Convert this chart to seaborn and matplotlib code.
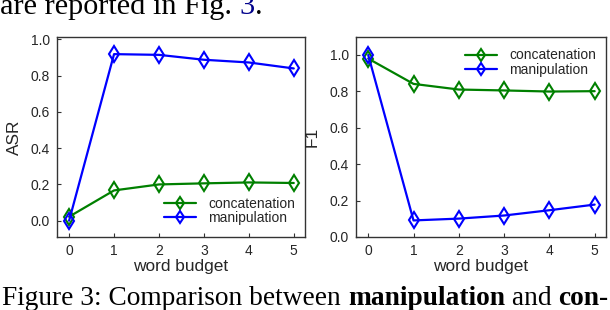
import matplotlib
matplotlib.use("Agg")
import matplotlib.pyplot as plt
import seaborn as sns
import pandas as pd

budget = [0, 1, 2, 3, 4, 5]
asr_concatenation = [0.022, 0.167, 0.200, 0.206, 0.211, 0.208]
asr_manipulation = [0.000, 0.919, 0.915, 0.888, 0.873, 0.840]
f1_concatenation = [0.980, 0.841, 0.810, 0.805, 0.799, 0.801]
f1_manipulation = [1.000, 0.091, 0.101, 0.118, 0.147, 0.178]
series_names = ["concatenation", "manipulation"]
series_colors = ["#008000", "#0000ff"]
xticks = [0, 1, 2, 3, 4, 5]
asr_yticks = [0.0, 0.2, 0.4, 0.6, 0.8, 1.0]
f1_yticks = [0.0, 0.2, 0.4, 0.6, 0.8, 1.0]

sns.set_style("ticks")
plt.rcParams["font.family"] = ["Liberation Sans", "DejaVu Sans"]

fig = plt.figure(figsize=(6.1, 3.1), dpi=100)
ax1 = fig.add_axes([0.0934, 0.2355, 0.4066, 0.646])
ax2 = fig.add_axes([0.5836, 0.2355, 0.4098, 0.646])

def draw(ax, ys, ylabel, ylim, yticks, legend_loc, bbox, ylabelpad):
    for name, color, y in zip(series_names, series_colors, ys):
        df = pd.DataFrame({"x": budget, "y": y})
        sns.lineplot(data=df, x="x", y="y", ax=ax, color=color, marker="d",
                     markersize=8, markerfacecolor="none", markeredgecolor=color,
                     markeredgewidth=1.5, linewidth=1.6, label=name)
    ax.set_xlim(-0.27, 5.25)
    ax.set_ylim(*ylim)
    ax.set_xticks(xticks)
    ax.set_yticks(yticks)
    ax.set_yticklabels([f"{v:.1f}" for v in yticks])
    ax.set_xlabel("word budget", fontsize=12.4, labelpad=1)
    ax.set_ylabel(ylabel, fontsize=12.4, labelpad=ylabelpad)
    ax.tick_params(direction="in", length=3, width=0.8, labelsize=10, color="#333333",
                   pad=5, top=False, right=False)
    for sp in ax.spines.values():
        sp.set_visible(True)
        sp.set_color("#333333")
        sp.set_linewidth(1.0)
    ax.legend(loc=legend_loc, bbox_to_anchor=bbox, frameon=False, fontsize=10,
              handlelength=2.3, handletextpad=0.9, labelspacing=0.05,
              borderpad=0.2, markerscale=0.75)

draw(ax1, [asr_concatenation, asr_manipulation], "ASR", (-0.09, 1.015), asr_yticks,
     "lower right", (1.0, 0.01), 6.5)
draw(ax2, [f1_concatenation, f1_manipulation], "F1", (0.0, 1.1), f1_yticks,
     "upper right", (1.0, 0.99), 7)

# surrounding caption text from the page
renderer = fig.canvas.get_renderer()

def chain(parts, x0, y, size):
    x = x0
    for txt, weight, color in parts:
        t = fig.text(x, y, txt, fontsize=size, fontweight=weight, color=color,
                     family=["Liberation Serif", "DejaVu Serif"], va="baseline", ha="left")
        bb = t.get_window_extent(renderer=renderer)
        x = bb.x1 / fig.bbox.width
    return x

chain([("are reported in Fig. ", "normal", "black"), ("3", "normal", "#00008b"),
       (".", "normal", "black")], 0.0, 1 - 14 / 310, 21.8)
chain([("Figure 3: Comparison between ", "normal", "black"),
       ("manipulation", "bold", "black"), (" and ", "normal", "black"),
       ("con-", "bold", "black")], 0.004, 5 / 310, 19.7)

fig.savefig("out.png", dpi=100)
